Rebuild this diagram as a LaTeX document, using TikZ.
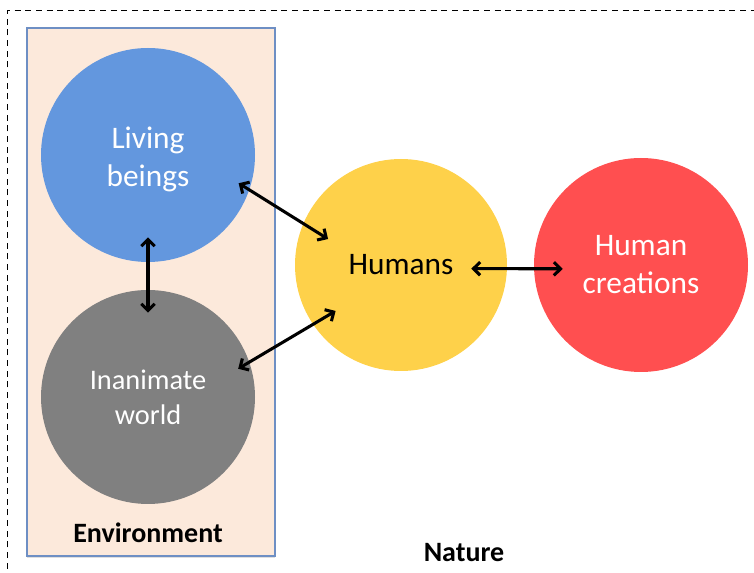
\documentclass[tikz,border=0pt]{standalone}
\usepackage{fontspec}
\setmainfont{Carlito}
\usetikzlibrary{arrows.meta,shadows}

\definecolor{livingblue}{RGB}{99,151,222}
\definecolor{worldgray}{RGB}{128,128,128}
\definecolor{humanyellow}{RGB}{254,209,74}
\definecolor{creationred}{RGB}{255,79,80}
\definecolor{envfill}{RGB}{252,233,219}
\definecolor{envline}{RGB}{110,143,196}
\newcommand{\ballfont}{\fontsize{23.5}{28.5}\selectfont}
\newcommand{\smallballfont}{\fontsize{21.3}{26}\selectfont}
\newcommand{\tagfont}{\fontsize{21}{25}\selectfont\bfseries}

\begin{document}
\begin{tikzpicture}[x=0.75pt,y=0.75pt,yscale=-1,xscale=1,
	ball/.style={circle,inner sep=0pt,minimum size=160.5pt,align=center,font=\ballfont,text=white},
	arr/.style={{Straight Barb[length=5pt,width=10pt]}-{Straight Barb[length=5pt,width=10pt]},line width=2.3pt}]
	\useasboundingbox (0,0) rectangle (754,573);
	
	%Straight Lines: dashed frame
	\draw [line width=0.75pt] [dash pattern={on 4.5pt off 3.5pt}]  (7,590) -- (7,11) -- (770,11) ;
	%Shape: Rectangle
	\draw [draw=envline,fill=envfill,line width=0.9pt,drop shadow={shadow xshift=0pt,shadow yshift=-1.2pt,opacity=0.25}] (27,28) rectangle (275,556) ;
	
	%Shape: Circle
	\node [ball,fill=livingblue] (living) at (148,155) {\rule{0pt}{22.5pt}Living\\beings};
	%Shape: Circle
	\node [ball,fill=worldgray,font=\smallballfont] (world) at (148,397) {Inanimate\\world};
	%Shape: Circle
	\node [ball,fill=humanyellow,minimum size=159pt,text=black] (humans) at (401,265) {Humans};
	%Shape: Circle
	\node [ball,fill=creationred] (creations) at (641,265) {Human\\creations};
	
	%Straight Lines
	\draw [arr,shorten <=-9.5pt,shorten >=-22pt] (living.-19) -- (humans.157) ;
	%Straight Lines
	\draw [arr,shorten <=-9.8pt,shorten >=-19.8pt] (world.19) -- (humans.-146) ;
	%Straight Lines
	\draw [arr,shorten <=-18.75pt,shorten >=-17.25pt] (living.south) -- (world.north) ;
	%Straight Lines
	\draw [arr,shorten <=-26.9pt,shorten >=-21.7pt] (humans.-2) -- (creations.-178) ;
	
	% Text Node
	\node [font=\tagfont] (envlabel) at (148,533) {Environment};
	% Text Node
	\node [font=\tagfont] (naturelabel) at (464,553) {Nature};
\end{tikzpicture}
\end{document}
